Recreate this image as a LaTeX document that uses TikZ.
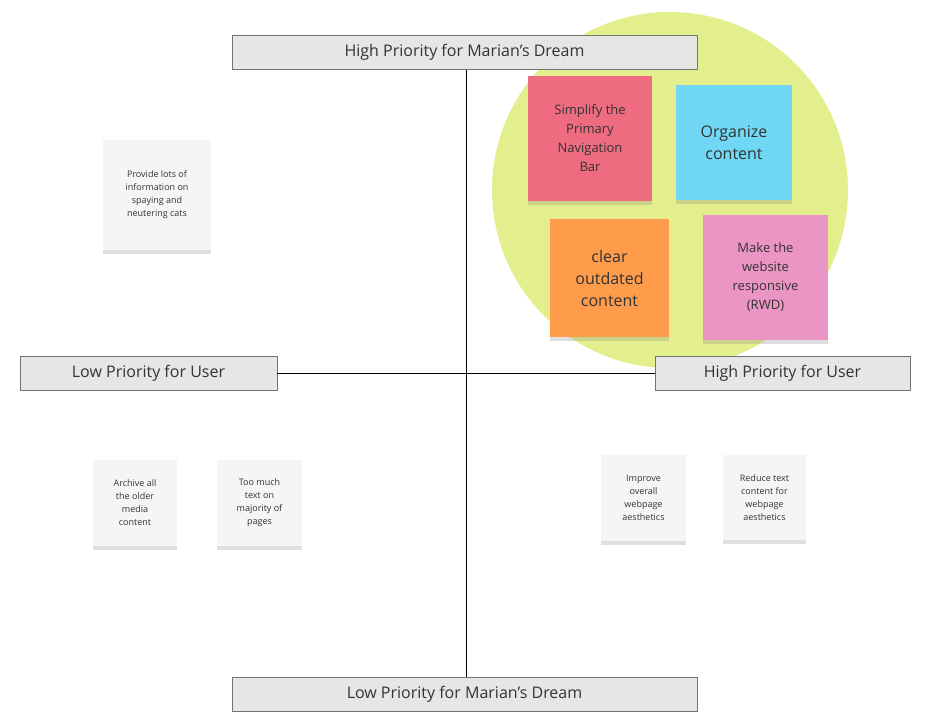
\documentclass[tikz,border=0pt]{standalone}
\usepackage{fontspec}
\setmainfont{Open Sans}
\usetikzlibrary{shadows}
\definecolor{circ}{HTML}{E3EF8C}
\definecolor{nred}{HTML}{EF6B80}
\definecolor{nblue}{HTML}{70D8F5}
\definecolor{norange}{HTML}{FF9C4C}
\definecolor{npink}{HTML}{EB95C4}
\definecolor{nwhite}{HTML}{F4F5F7}
\definecolor{lbl}{HTML}{E6E6E6}
\definecolor{txt}{HTML}{333333}
\begin{document}
\begin{tikzpicture}[x=1pt,y=-1pt,
  axislbl/.style={draw=black!55,fill=lbl,line width=0.8pt,inner sep=0pt,text=txt,font=\fontsize{16}{19}\selectfont},
  note/.style={inner sep=0pt,align=center,text=txt,drop shadow={shadow xshift=0pt,shadow yshift=-4pt,opacity=0.25}},
  bignote/.style={note,font=\fontsize{13}{19}\selectfont},
  hugenote/.style={note,font=\fontsize{16}{22}\selectfont},
  smallnote/.style={note,fill=nwhite,font=\fontsize{9}{13}\selectfont}]
\useasboundingbox[fill=white] (0,0) rectangle (935,726);
\fill[circ] (670,190) circle (178);
\coordinate (vt) at (466,52);
\coordinate (vb) at (466,678);
\draw[line width=0.8pt] (vt) -- (vb);
\node[axislbl,minimum width=465pt,minimum height=34pt] (top) at (464.5,52) {High Priority for Marian's Dream};
\node[axislbl,minimum width=465pt,minimum height=34pt] (bot) at (464.5,694) {Low Priority for Marian's Dream};
\node[axislbl,minimum width=257pt,minimum height=34pt] (left) at (148.5,373) {Low Priority for User};
\node[axislbl,minimum width=255pt,minimum height=34pt] (right) at (782.5,373) {High Priority for User};
\draw[line width=0.8pt] (left.east) -- (right.west);
\node[bignote,fill=nred,minimum width=124pt,minimum height=125pt] (n1) at (590,138.5) {Simplify the\\Primary\\Navigation\\Bar};
\node[hugenote,fill=nblue,minimum width=116pt,minimum height=115pt] (n2) at (734,142.5) {Organize\\content};
\node[hugenote,fill=norange,minimum width=119pt,minimum height=118pt] (n3) at (609.5,278) {clear\\outdated\\content};
\node[bignote,fill=npink,minimum width=125pt,minimum height=125pt] (n4) at (765.5,277.5) {Make the\\website\\responsive\\(RWD)};
\node[smallnote,minimum width=108pt,minimum height=110pt] (w1) at (157,195) {Provide lots of\\information on\\spaying and\\neutering cats};
\node[smallnote,minimum width=84pt,minimum height=86pt] (w2) at (135,503) {Archive all\\the older\\media\\content};
\node[smallnote,minimum width=85pt,minimum height=86pt] (w3) at (259.5,503) {Too much\\text on\\majority of\\pages};
\node[smallnote,minimum width=85pt,minimum height=86pt] (w4) at (643.5,498) {Improve\\overall\\webpage\\aesthetics};
\node[smallnote,minimum width=83pt,minimum height=85pt] (w5) at (764.5,497.5) {Reduce text\\content for\\webpage\\aesthetics};
\end{tikzpicture}
\end{document}
